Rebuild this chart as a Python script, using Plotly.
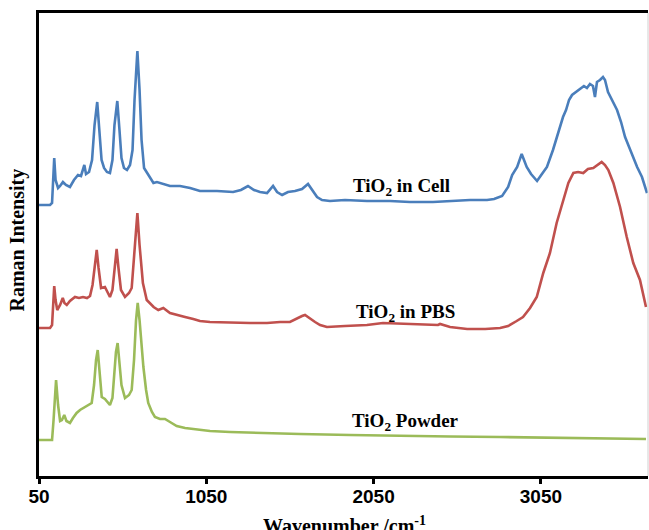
import plotly.graph_objects as go

# Wavenumber (cm-1) and offset Raman intensity (a.u.)
cell_wn = [50, 116, 128, 134, 141, 149, 164, 176, 193, 211, 235, 259, 283, 301, 321, 331, 349, 367, 382, 398,
           412, 424, 439, 456, 474, 489, 501, 518, 531, 543, 558, 576, 594, 609, 621, 638, 651, 663, 678, 696,
           716, 734, 755, 791, 833, 893, 953, 1012, 1114, 1210, 1257, 1299, 1335, 1371, 1413, 1449, 1473, 1503,
           1538, 1580, 1622, 1658, 1682, 1712, 1742, 1789, 1879, 2010, 2148, 2267, 2405, 2536, 2626, 2728, 2770,
           2818, 2854, 2878, 2908, 2935, 2965, 2991, 3027, 3056, 3086, 3122, 3146, 3164, 3182, 3200, 3218, 3236,
           3260, 3284, 3307, 3325, 3343, 3361, 3373, 3385, 3403, 3421, 3433, 3451, 3475, 3505, 3529, 3553, 3577,
           3601, 3625, 3654, 3684]
cell_int = [271, 271, 273, 296, 318, 296, 288, 290, 294, 291, 289, 296, 301, 300, 311, 302, 304, 316, 351, 374,
            346, 316, 308, 304, 303, 316, 351, 375, 346, 318, 308, 306, 311, 326, 376, 425, 386, 336, 308, 303,
            298, 293, 294, 292, 290, 290, 288, 285, 285, 284, 286, 290, 286, 284, 283, 290, 284, 281,
            284, 285, 287, 292, 286, 279, 276, 275, 276, 275, 275, 274, 274, 275, 276, 276, 277,
            280, 289, 301, 309, 322, 309, 302, 295, 302, 309, 326, 339, 349, 359, 366, 376, 381,
            384, 387, 390, 388, 392, 390, 379, 394, 396, 399, 396, 384, 376, 366, 354, 339, 329,
            319, 309, 299, 283]

pbs_wn = [50, 116, 128, 134, 141, 149, 159, 176, 192, 202, 216, 235, 265, 289, 313, 337, 355, 370, 382, 395,
          406, 421, 444, 459, 474, 489, 501, 514, 525, 540, 564, 588, 604, 618, 638, 651, 671, 694, 735, 763,
          793, 833, 873, 923, 972, 1012, 1072, 1210, 1311, 1413, 1491, 1550, 1592, 1622, 1640, 1664, 1700, 1730,
          1771, 1879, 2010, 2106, 2238, 2357, 2435, 2447, 2507, 2609, 2717, 2806, 2854, 2905, 2943, 2985, 3025,
          3064, 3104, 3144, 3184, 3214, 3244, 3272, 3303, 3331, 3363, 3385, 3413, 3433, 3453, 3483, 3523, 3563,
          3602, 3642, 3678]
pbs_int = [148, 148, 151, 171, 190, 176, 166, 171, 178, 173, 171, 175, 179, 178, 179, 178, 180, 191, 211, 226,
           208, 188, 189, 184, 179, 186, 208, 227, 208, 186, 179, 183, 188, 216, 263, 231, 193, 176, 169, 166,
           168, 163, 161, 159, 157, 155, 154, 153, 153, 153, 154, 154, 158, 160, 161, 158, 154, 151,
           149, 150, 151, 153, 152, 151, 151, 152, 149, 147, 147, 148, 150, 155, 159, 168, 179,
           203, 223, 253, 276, 293, 303, 304, 303, 307, 308, 311, 314, 311, 306, 293, 269, 239,
           213, 196, 169]

powder_wn = [50, 128, 137, 152, 164, 176, 187, 201, 214, 235, 253, 275, 295, 315, 343, 365, 379, 391, 401, 412,
             425, 444, 474, 489, 501, 510, 520, 531, 543, 564, 588, 604, 618, 630, 640, 651, 663, 674, 690, 703,
             725, 743, 773, 803, 833, 873, 923, 972, 1072, 1192, 1371, 1610, 1909, 2208, 2507, 2805, 3164, 3678]
powder_int = [36, 36, 56, 96, 71, 55, 56, 61, 55, 53, 58, 63, 66, 68, 70, 73, 91, 116, 126, 106,
              79, 77, 71, 78, 106, 124, 133, 116, 91, 78, 81, 86, 116, 156, 173, 156, 131, 109, 86, 73,
              64, 59, 57, 57, 54, 50, 48, 47, 45, 44, 43, 42, 41, 40, 39.5, 39, 38, 37]

x_ticks = [50, 1050, 2050, 3050]
labels = ["TiO<sub>2</sub> in Cell", "TiO<sub>2</sub> in PBS", "TiO<sub>2</sub> Powder"]
label_wn = [2214, 2238, 2238]
label_int = [289, 163, 54]

fig = go.Figure()
series = [(cell_wn, cell_int, "#4A7EBB"), (pbs_wn, pbs_int, "#C0504D"), (powder_wn, powder_int, "#9BBB59")]
for xs, ys, col in series:
    fig.add_trace(go.Scatter(x=xs, y=ys, mode="lines", line=dict(color=col, width=2.6), showlegend=False))

for t, xv, yv in zip(labels, label_wn, label_int):
    fig.add_annotation(x=xv, y=yv, text="<b>" + t + "</b>", showarrow=False,
                       font=dict(family="Liberation Serif", size=19, color="black"))

fig.add_annotation(xref="paper", yref="paper", x=0.502, y=-0.106, yanchor="middle",
                   text="<b>Wavenumber /cm<sup>-1</sup></b>", showarrow=False,
                   font=dict(family="Liberation Serif", size=20, color="black"))
fig.add_annotation(xref="paper", yref="paper", x=-0.035, y=0.51, xanchor="center", yanchor="middle",
                   text="<b>Raman Intensity</b>", textangle=-90, showarrow=False,
                   font=dict(family="Liberation Serif", size=20, color="black"))

fig.add_shape(type="line", xref="paper", yref="paper", x0=1, x1=1, y0=0, y1=1,
              line=dict(color="#d0d0d0", width=1))

fig.update_xaxes(range=[50, 3690], tickvals=x_ticks, ticktext=[str(v) for v in x_ticks],
                 showline=True, linecolor="black", linewidth=3, mirror=True,
                 ticks="outside", ticklen=5, tickwidth=3, tickcolor="black",
                 ticklabelstandoff=-4,
                 showgrid=False, zeroline=False,
                 tickfont=dict(family="Liberation Sans", size=19, color="black", weight="bold"))
fig.update_yaxes(range=[0, 463], showline=True, linecolor="black", linewidth=3, mirror=False,
                 showticklabels=False, ticks="", showgrid=False, zeroline=False)

fig.update_layout(width=649, height=530, margin=dict(l=39, r=1, t=13, b=54),
                  plot_bgcolor="white", paper_bgcolor="white", hovermode=False)
fig.write_html("out.html", config={"displayModeBar": False, "staticPlot": True},
               post_script="document.body.style.margin='0px';"
                           "document.body.style.overflow='hidden';"
                           "document.documentElement.style.overflow='hidden';")
